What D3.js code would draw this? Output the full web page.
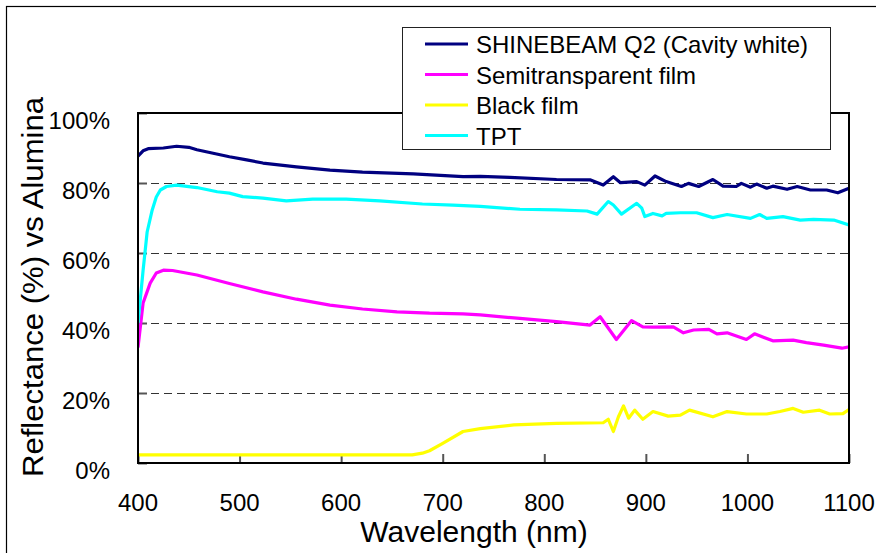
<!DOCTYPE html>
<html><head><meta charset="utf-8">
<script src="https://cdn.jsdelivr.net/npm/d3@7"></script>
<style>html,body{margin:0;padding:0;background:#fff;overflow:hidden}</style>
</head><body>
<svg id="chart" width="876" height="553"></svg>
<script>
// ---- data ----
const seriesNames = ["SHINEBEAM Q2 (Cavity white)", "Semitransparent film", "Black film", "TPT"];
const seriesColors = ["#000080", "#FF00FF", "#FFFF00", "#00FFFF"];

const shinebeamWl = [400,405,410,425,438,450,458,474,490,507,523,556,589,621,671,720,737,766,812,845,858,868,875,891,899,909,920,935,942,952,966,976,989,994,1003,1009,1019,1025,1039,1049,1062,1078,1089,1100];
const shinebeamVal = [87.7,89.2,89.8,90.0,90.5,90.2,89.5,88.5,87.5,86.6,85.7,84.6,83.7,83.1,82.6,81.8,81.9,81.6,81.0,80.9,79.4,81.8,80.1,80.4,79.4,82.0,80.4,79.0,79.9,79.0,81.0,79.1,79.0,79.9,78.8,79.7,78.5,79.1,78.2,79.0,78.0,78.0,77.2,78.5];

const semiWl = [400,405,412,418,425,434,458,490,523,556,589,621,655,687,720,737,776,812,845,855,871,886,897,907,927,937,947,962,970,980,999,1007,1025,1045,1058,1075,1093,1100];
const semiVal = [33.0,45.7,51.4,54.3,55.1,55.0,53.7,51.3,48.9,46.8,45.1,44.0,43.2,42.8,42.6,42.3,41.3,40.4,39.4,41.8,35.3,40.7,38.9,38.8,38.9,37.2,38.0,38.2,36.9,37.2,35.3,36.9,34.9,35.1,34.4,33.7,32.8,33.2];

const blackWl = [400,670,680,687,700,720,737,770,812,858,863,868,873,878,883,889,897,907,922,934,943,966,980,999,1019,1032,1045,1055,1071,1081,1094,1100];
const blackVal = [2.3,2.3,2.8,3.5,5.6,9.0,9.8,10.9,11.3,11.5,12.5,9.0,13.2,16.3,12.8,15.1,12.5,14.7,13.4,13.7,15.1,13.2,14.7,14.0,14.0,14.7,15.6,14.5,15.1,14.0,14.1,15.3];

const tptWl = [400,405,409,414,418,422,428,438,458,478,490,503,523,546,572,605,638,680,710,737,776,812,842,852,863,868,876,891,896,899,907,916,920,934,950,966,980,1003,1012,1019,1035,1052,1065,1085,1100];
const tptVal = [40.0,55.0,66.0,72.3,76.0,78.0,79.0,79.4,78.7,77.5,77.1,76.1,75.7,74.9,75.4,75.4,74.9,74.0,73.7,73.3,72.5,72.3,72.0,71.1,74.7,73.7,71.1,74.2,72.8,70.4,71.3,70.6,71.3,71.5,71.5,70.1,71.0,69.9,71.0,69.9,70.4,69.4,69.6,69.4,68.0];

const xTicks = [400,500,600,700,800,900,1000,1100];
const yTicks = [0,20,40,60,80,100];
const xTitle = "Wavelength (nm)";
const yTitle = "Reflectance (%) vs Alumina";

// ---- layout ----
const svg = d3.select("#chart");
const L = 138, R = 849, T = 113, B = 463;
const x = d3.scaleLinear().domain([400,1100]).range([L,R]);
const y = d3.scaleLinear().domain([0,100]).range([B,T]);

// outer frame (partially outside the viewport, as in reference)
svg.append("rect").attr("x",6.5).attr("y",6.5).attr("width",900).attr("height",600)
  .attr("fill","#fff").attr("stroke","#000").attr("stroke-width",1.2);

// gridlines
svg.append("g").selectAll("line").data(yTicks.filter(d=>d>0&&d<100)).join("line")
  .attr("x1",L).attr("x2",R).attr("y1",d=>Math.round(y(d))+0.5).attr("y2",d=>Math.round(y(d))+0.5)
  .attr("stroke","#333").attr("stroke-width",1).attr("stroke-dasharray","8,5");

// axes with inward ticks
const xAxis = d3.axisBottom(x).tickValues(xTicks).tickSize(-9).tickFormat("");
const yAxis = d3.axisLeft(y).tickValues(yTicks).tickSize(-9).tickFormat("");
const gx = svg.append("g").attr("transform",`translate(0,${B})`).call(xAxis);
const gy = svg.append("g").attr("transform",`translate(${L},0)`).call(yAxis);
[gx,gy].forEach(g=>{
  g.select(".domain").remove();
  g.selectAll(".tick line").attr("stroke","#555").attr("stroke-width",2);
});

// tick labels
svg.append("g").selectAll("text").data(xTicks).join("text")
  .attr("x",d=>x(d)).attr("y",511).attr("text-anchor","middle")
  .attr("font-family","Liberation Sans, Arial, sans-serif").attr("font-size",24).attr("fill","#000")
  .text(d=>d);
svg.append("g").selectAll("text").data(yTicks).join("text")
  .attr("x",110).attr("y",d=>y(d)+16).attr("text-anchor","end")
  .attr("font-family","Liberation Sans, Arial, sans-serif").attr("font-size",24).attr("fill","#000")
  .text(d=>d+"%");

// series lines
const series = [
  {wl:shinebeamWl, val:shinebeamVal},
  {wl:semiWl, val:semiVal},
  {wl:blackWl, val:blackVal},
  {wl:tptWl, val:tptVal}
];
const line = d3.line().x(d=>x(d[0])).y(d=>y(d[1]));
svg.append("defs").append("clipPath").attr("id","plotclip")
  .append("rect").attr("x",L).attr("y",T-2).attr("width",R-L).attr("height",B-T+2);
const gl = svg.append("g").attr("clip-path","url(#plotclip)");
series.forEach((s,i)=>{
  gl.append("path").datum(d3.zip(s.wl,s.val)).attr("d",line)
    .attr("fill","none").attr("stroke",seriesColors[i]).attr("stroke-width",3.2)
    .attr("stroke-linejoin","round");
});

// plot border
svg.append("rect").attr("x",L).attr("y",T).attr("width",R-L).attr("height",B-T)
  .attr("fill","none").attr("stroke","#000").attr("stroke-width",2);

// axis titles
svg.append("text").attr("x",474).attr("y",542).attr("text-anchor","middle")
  .attr("font-family","Liberation Sans, Arial, sans-serif").attr("font-size",30).attr("fill","#000")
  .text(xTitle);
svg.append("text").attr("transform","translate(43,287) rotate(-90)").attr("text-anchor","middle")
  .attr("font-family","Liberation Sans, Arial, sans-serif").attr("font-size",30).attr("fill","#000")
  .attr("textLength",380).attr("lengthAdjust","spacingAndGlyphs")
  .text(yTitle);

// legend
const lg = svg.append("g");
lg.append("rect").attr("x",402.5).attr("y",27.5).attr("width",428).attr("height",122)
  .attr("fill","#fff").attr("stroke","#222").attr("stroke-width",1);
const rowY = d3.scalePoint().domain(d3.range(seriesNames.length)).range([44,135.5]);
seriesNames.forEach((n,i)=>{
  lg.append("line").attr("x1",425).attr("x2",468).attr("y1",rowY(i)).attr("y2",rowY(i))
    .attr("stroke",seriesColors[i]).attr("stroke-width",3.2);
  lg.append("text").attr("x",476).attr("y",rowY(i)+9)
    .attr("font-family","Liberation Sans, Arial, sans-serif").attr("font-size",24).attr("fill","#000")
    .text(n);
});
</script>
</body></html>
